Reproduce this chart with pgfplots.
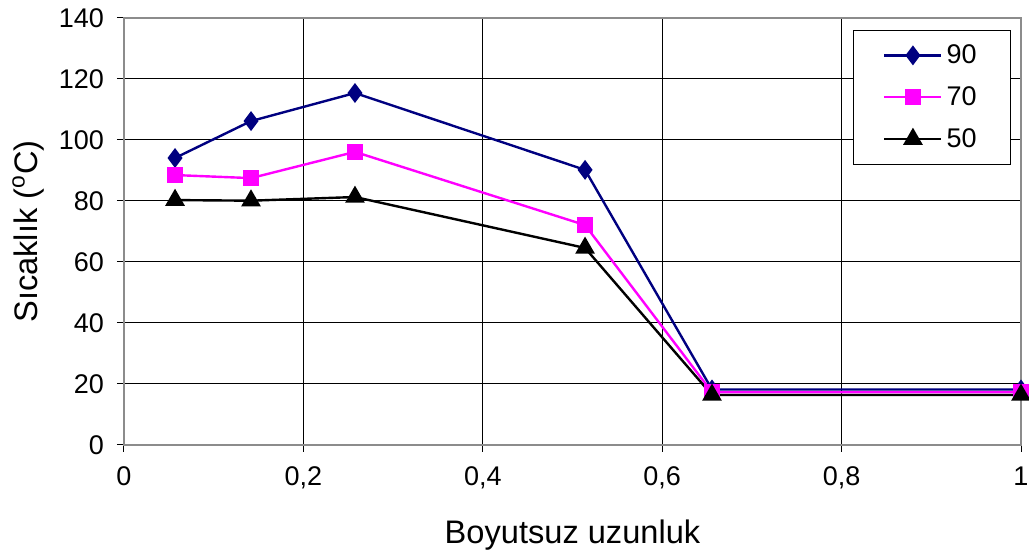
\documentclass[border=0pt]{standalone}
\usepackage{pgfplots}
\pgfplotsset{compat=1.18}
\usepackage{fontspec}
\setmainfont{Liberation Sans}
\definecolor{navy}{RGB}{0,0,128}
\definecolor{mag}{RGB}{255,0,255}
\begin{document}
\begin{tikzpicture}
\begin{axis}[
  name=ax,
  scale only axis,
  width=448.5pt, height=213.5pt,
  xmin=0, xmax=1, ymin=0, ymax=140,
  xtick={0,0.2,0.4,0.6,0.8,1},
  ytick={0,20,...,140},
  xticklabels={0,{0,2},{0,4},{0,6},{0,8},1},
  /pgf/number format/assume math mode=true,
  grid=major,
  major grid style={black, line width=0.5pt},
  axis line style={draw=gray!90, line width=1pt},
  tick align=outside,
  tick pos=left,
  major tick length=3.5pt,
  tick style={black, line width=0.5pt},
  ticklabel style={font=\fontsize{13.5}{16}\selectfont},
  yticklabel style={xshift=-3pt},
  xticklabel style={yshift=-4pt},
  xlabel={Boyutsuz uzunluk},
  ylabel={Sıcaklık (\textsuperscript{o}C)},
  label style={font=\fontsize{16.3}{19}\selectfont},
  xlabel style={at={(axis description cs:0.5,-0.211)}, anchor=center},
  ylabel style={at={(axis description cs:-0.107,0.5)}, anchor=center},
  legend style={at={(axis description cs:0.989,0.972)}, anchor=north east,
    draw=black, line width=0.5pt, font=\fontsize{13.5}{16}\selectfont,
    row sep=6pt, inner xsep=15pt, inner ysep=5pt},
  legend cell align=left,
  legend image code/.code={%
    \draw[mark repeat=2,mark phase=2,#1] plot coordinates {(0cm,0cm) (0.5cm,0cm) (1cm,0cm)};},
]
\addplot[navy, line width=1.2pt, mark=diamond*, mark size=4pt, mark options={solid, fill=navy}]
coordinates {(0.0569,94.1) (0.1416,106.2) (0.2575,115.4) (0.514,90.2) (0.6555,18.2) (1,18.2)};
\addlegendentry{90}
\addplot[mag, line width=1.2pt, mark=square*, mark size=3.5pt, mark options={solid, fill=mag}]
coordinates {(0.0569,88.5) (0.1416,87.5) (0.2575,96.1) (0.514,72.1) (0.6555,17.3) (1,17.3)};
\addlegendentry{70}
\addplot[black, line width=1.2pt, mark=triangle*, mark size=4.5pt, mark options={solid, fill=black}]
coordinates {(0.0569,80.3) (0.1416,80.1) (0.2575,81.3) (0.514,64.6) (0.6555,16.4) (1,16.4)};
\addlegendentry{50}
\end{axis}
\pgfresetboundingbox
\path ([shift={(-62pt,-55pt)}]ax.south west) rectangle ([shift={(4pt,9pt)}]ax.north east);
\end{tikzpicture}
\end{document}
